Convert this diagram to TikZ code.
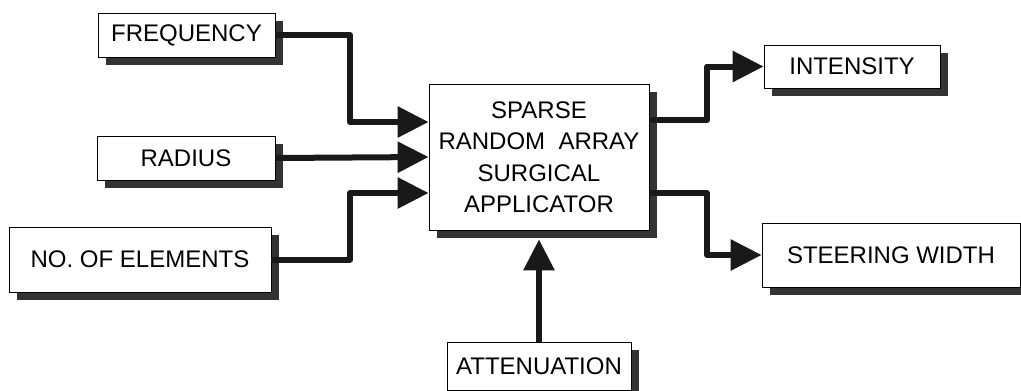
\documentclass[tikz,border=0pt]{standalone}
\usepackage{fontspec}
\setmainfont{Liberation Sans}
\usetikzlibrary{arrows.meta,shadows,calc}

\begin{document}
\begin{tikzpicture}[x=1pt,y=-1pt,
  blk/.style={draw=black,line width=0.8pt,fill=white,inner sep=0pt,
    font=\fontsize{24}{31.5}\selectfont,align=center,
    drop shadow={shadow xshift=8pt,shadow yshift=-8pt,fill=black!80,opacity=1}},
  wire/.style={line width=6pt,draw=black!90,-{Triangle[length=31pt,width=30pt]}}]
\useasboundingbox (0,0) rectangle (1021,391);
\clip (0,0) rectangle (1021,391);
\node[blk,minimum width=177pt,minimum height=44pt] (freq) at (186.5,35) {FREQUENCY};
\node[blk,minimum width=178pt,minimum height=44pt] (rad) at (186,158) {RADIUS};
\node[blk,minimum width=262pt,minimum height=65pt] (elem) at (140,259.5) {NO. OF ELEMENTS};
\node[blk,minimum width=220pt,minimum height=146pt] (app) at (539,157)
  {SPARSE\\RANDOM~ ARRAY\\SURGICAL\\APPLICATOR};
\node[blk,minimum width=176pt,minimum height=43pt] (int) at (852,66.5) {INTENSITY};
\node[blk,minimum width=258pt,minimum height=64pt] (steer) at (891,255) {STEERING WIDTH};
\node[blk,minimum width=184pt,minimum height=48pt] (att) at (539,366) {ATTENUATION};
% ports on the applicator
\coordinate (in1) at ($(app.west)+(0,-35)$);
\coordinate (in3) at ($(app.west)+(0,36)$);
\coordinate (out1) at ($(app.east)+(0,-37)$);
\coordinate (out2) at ($(app.east)+(0,36)$);
\coordinate (bendL) at (350,0);
\coordinate (bendR) at (707,0);
\draw[wire,line join=round] (freq.east) -| (bendL |- in1) -- (in1);
\draw[wire] (rad.east) -- (app.west);
\draw[wire,line join=round] (elem.east) -| (bendL |- in3) -- (in3);
\draw[wire,line join=round] (out1) -| (bendR |- int.west) -- (int.west);
\draw[wire,line join=round] (out2) -| (bendR |- steer.west) -- (steer.west);
\draw[wire] (att.north) -- ([yshift=-9pt]app.south);
\end{tikzpicture}
\end{document}
